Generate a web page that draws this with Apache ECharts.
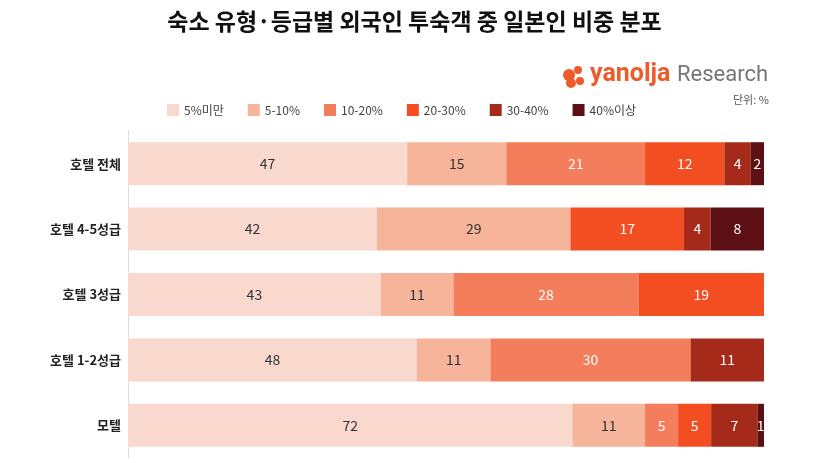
<!DOCTYPE html>
<html>
<head>
<meta charset="utf-8">
<script src="https://cdn.jsdelivr.net/npm/echarts@6/dist/echarts.min.js"></script>
<style>
  html, body { margin: 0; padding: 0; background: #fff; }
  #chart { width: 829px; height: 463px; }
</style>
</head>
<body>
<div id="chart"></div>
<script>
const categories = ['호텔 전체', '호텔 4-5성급', '호텔 3성급', '호텔 1-2성급', '모텔'];
const groups = ['5%미만', '5-10%', '10-20%', '20-30%', '30-40%', '40%이상'];
const colors = ['#f9d8cd', '#f6b49b', '#f47e5c', '#f34e22', '#a52a19', '#5c1014'];
const labelColors = ['#333', '#333', '#fff', '#fff', '#fff', '#fff'];

// one array per row, in the order of groups (null = no segment)
const hotelAll = [47, 15, 21, 12, 4, 2];
const hotel45 = [42, 29, null, 17, 4, 8];
const hotel3 = [43, 11, 28, 19, null, null];
const hotel12 = [48, 11, 30, null, 11, null];
const motel = [72, 11, 5, 5, 7, 1];
const rows = [hotelAll, hotel45, hotel3, hotel12, motel];

// bars are drawn as share of each row total (labels show the rounded values)
const rowSums = rows.map(r => r.reduce((a, v) => a + (v || 0), 0));

const chart = echarts.init(document.getElementById('chart'));

const series = groups.map((g, i) => ({
  name: g,
  type: 'bar',
  stack: 'total',
  barWidth: 43,
  clip: true,
  itemStyle: { color: colors[i] },
  label: {
    show: true,
    position: 'inside',
    color: labelColors[i],
    fontSize: 14,
    fontFamily: 'Noto Sans CJK KR',
    formatter: p => rows[p.dataIndex][i]
  },
  data: rows.map((r, k) => r[i] == null ? null : r[i] / rowSums[k] * 100)
}));

chart.setOption({
  animation: false,
  title: {
    text: '숙소 유형·등급별 외국인 투숙객 중 일본인 비중 분포',
    left: 'center',
    top: 5,
    textStyle: { fontSize: 23, fontWeight: 'bold', color: '#111', fontFamily: 'Noto Sans CJK KR' }
  },
  legend: {
    data: groups,
    left: 162,
    top: 99,
    itemWidth: 12,
    itemHeight: 12,
    itemGap: 24,
    icon: 'rect',
    textStyle: { fontSize: 12, color: '#444', fontFamily: 'Noto Sans CJK KR' }
  },
  graphic: [
    { type: 'circle', shape: { cx: 569, cy: 75, r: 6 }, style: { fill: '#ef5a2a' } },
    { type: 'circle', shape: { cx: 578, cy: 70, r: 4 }, style: { fill: '#ef5a2a' } },
    { type: 'circle', shape: { cx: 571, cy: 83, r: 5 }, style: { fill: '#ef5a2a' } },
    { type: 'circle', shape: { cx: 580, cy: 81, r: 4 }, style: { fill: '#ef5a2a' } },
    { type: 'text', left: 590, top: 62, style: { text: 'yanolja', fontSize: 25, fontWeight: 'bold', fill: '#ef5a2a', fontFamily: 'Roboto' } },
    { type: 'text', left: 677, top: 64, style: { text: 'Research', fontSize: 22, fill: '#777', fontFamily: 'Roboto' } },
    { type: 'text', left: 733, top: 94, style: { text: '단위: %', fontSize: 11, fill: '#555', fontFamily: 'Noto Sans CJK KR' } }
  ],
  grid: { left: 128, right: 65, top: 131, bottom: 5 },
  xAxis: {
    type: 'value',
    min: 4.7,
    max: 100,
    show: false
  },
  yAxis: {
    type: 'category',
    data: categories,
    inverse: true,
    axisLine: { lineStyle: { color: '#ddd' } },
    axisTick: { show: false },
    axisLabel: { color: '#222', fontSize: 13, fontWeight: 'bold', margin: 7, fontFamily: 'Noto Sans CJK KR' }
  },
  series: series
});
</script>
</body>
</html>
